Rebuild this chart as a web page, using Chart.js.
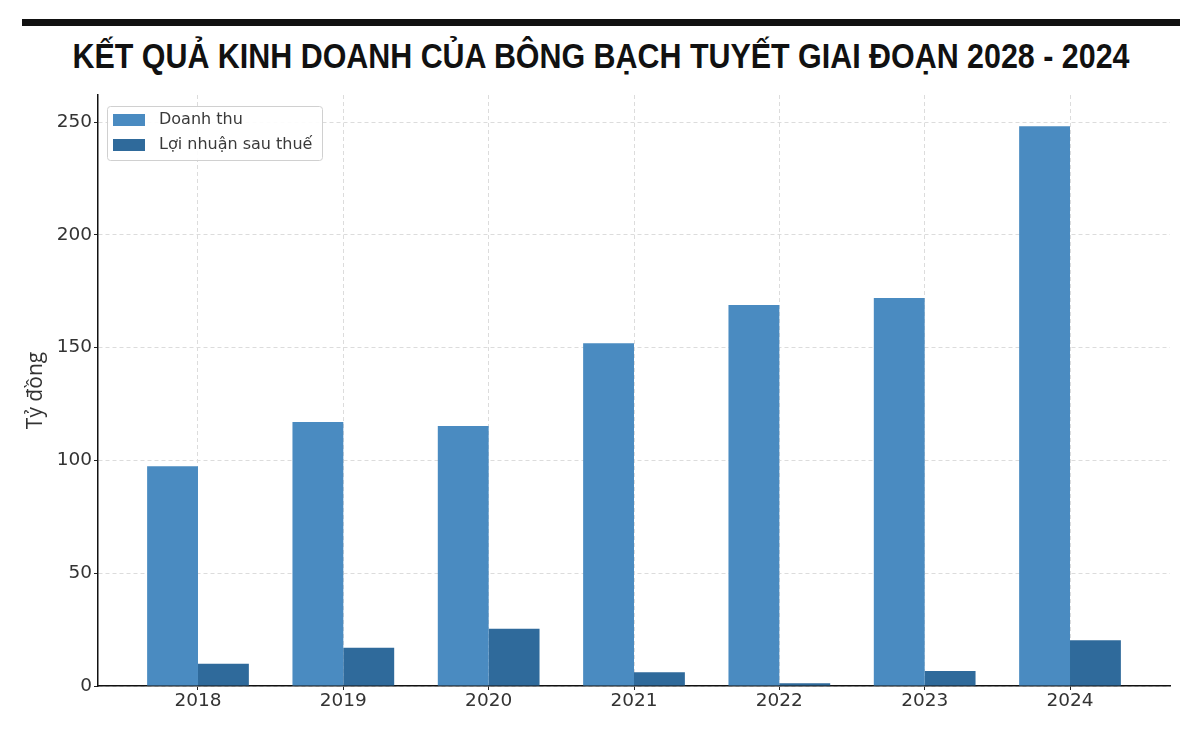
<!DOCTYPE html>
<html>
<head>
<meta charset="utf-8">
<script src="https://cdn.jsdelivr.net/npm/chart.js@4.4.1/dist/chart.umd.min.js"></script>
<style>
  html, body { margin: 0; padding: 0; background: #fff; }
  #wrap { position: relative; width: 1200px; height: 738px; overflow: hidden; }
  #bar { position: absolute; left: 22px; top: 19px; width: 1158px; height: 7px; background: #111; }
  #titleText {
    position: absolute; left: 601px; top: 34px;
    font-family: "Liberation Sans Narrow", "Liberation Sans", sans-serif; font-weight: bold;
    font-size: 35px; line-height: 44px; color: #111; white-space: nowrap;
  }
  canvas { position: absolute; left: 0; top: 0; }
</style>
</head>
<body>
<div id="wrap">
  <div id="bar"></div>
  <div id="titleText">KẾT QUẢ KINH DOANH CỦA BÔNG BẠCH TUYẾT GIAI ĐOẠN 2028 - 2024</div>
  <canvas id="chart" width="1200" height="738"></canvas>
</div>
<script>
// data
const years = ["2018", "2019", "2020", "2021", "2022", "2023", "2024"];
const revenue = [97.4, 117.0, 115.3, 152.0, 168.9, 172.0, 248.2];
const profit = [9.9, 17.0, 25.4, 6.1, 1.2, 6.7, 20.3];
const yTicks = [0, 50, 100, 150, 200, 250];

// fit title to the reference width, centred
const t = document.getElementById("titleText");
const w = t.getBoundingClientRect().width;
t.style.transform = "translateX(-50%) scaleX(" + (1057 / w) + ")";

// legend drawn inside the plot, top-left
const innerLegend = {
    id: "innerLegend",
    afterDraw(chart) {
        const ctx = chart.ctx;
        const x = 107, y = 106, bw = 215, bh = 54;
        ctx.save();
        ctx.fillStyle = "rgba(255,255,255,0.9)";
        ctx.strokeStyle = "#d0d0d0";
        ctx.lineWidth = 1;
        ctx.beginPath();
        ctx.roundRect(x + 0.5, y + 0.5, bw, bh, 3);
        ctx.fill();
        ctx.stroke();
        ctx.font = "16px 'DejaVu Sans'";
        ctx.textBaseline = "middle";
        chart.data.datasets.forEach(function (ds, i) {
            const cy = y + 14 + i * 25;
            ctx.fillStyle = ds.backgroundColor;
            ctx.fillRect(x + 6, cy - 6, 32, 12);
            ctx.fillStyle = "#3a3a3a";
            ctx.fillText(ds.label, x + 52, cy);
        });
        ctx.restore();
    }
};

const gridOpts = {
    color: "#dcdcdc",
    tickColor: "#222",
    tickLength: 4,
    tickBorderDash: [],
    offset: false
};

const ctx = document.getElementById("chart").getContext("2d");
let chart = new Chart(ctx, {
    type: "bar",
    data: {
        datasets: [
            {
                label: "Doanh thu",
                data: revenue.map((v, i) => ({ x: i, y: v })),
                backgroundColor: "#4a8bc1"
            },
            {
                label: "Lợi nhuận sau thuế",
                data: profit.map((v, i) => ({ x: i, y: v })),
                backgroundColor: "#2f6a9b"
            }
        ]
    },
    options: {
        responsive: false,
        animation: false,
        categoryPercentage: 0.7,
        barPercentage: 1.0,
        layout: { padding: { left: 0, top: 95, right: 30, bottom: 0 } },
        plugins: {
            legend: { display: false },
            tooltip: { enabled: false }
        },
        scales: {
            x: {
                type: "linear",
                offset: false,
                min: -0.688,
                max: 6.688,
                afterBuildTicks(scale) {
                    scale.ticks = years.map((y, i) => ({ value: i }));
                },
                afterFit(scale) { scale.height = 52; },
                ticks: {
                    callback: (v) => years[v],
                    color: "#333",
                    font: { family: "DejaVu Sans", size: 18.5 },
                    padding: 0,
                    maxRotation: 0
                },
                grid: gridOpts,
                border: { display: true, color: "#111", width: 1.5, dash: [4, 3] }
            },
            y: {
                min: 0,
                max: 262,
                afterBuildTicks(scale) {
                    scale.ticks = yTicks.map((v) => ({ value: v }));
                },
                afterFit(scale) { scale.width = 98; },
                ticks: {
                    color: "#333",
                    font: { family: "DejaVu Sans", size: 18.5 },
                    padding: 2
                },
                title: {
                    display: true,
                    text: "Tỷ đồng",
                    color: "#333",
                    font: { family: "Open Sans", size: 21 },
                    padding: { top: 23, bottom: 0 }
                },
                grid: gridOpts,
                border: { display: true, color: "#111", width: 1.5, dash: [4, 3] }
            }
        }
    },
    plugins: [innerLegend]
});
</script>
</body>
</html>
